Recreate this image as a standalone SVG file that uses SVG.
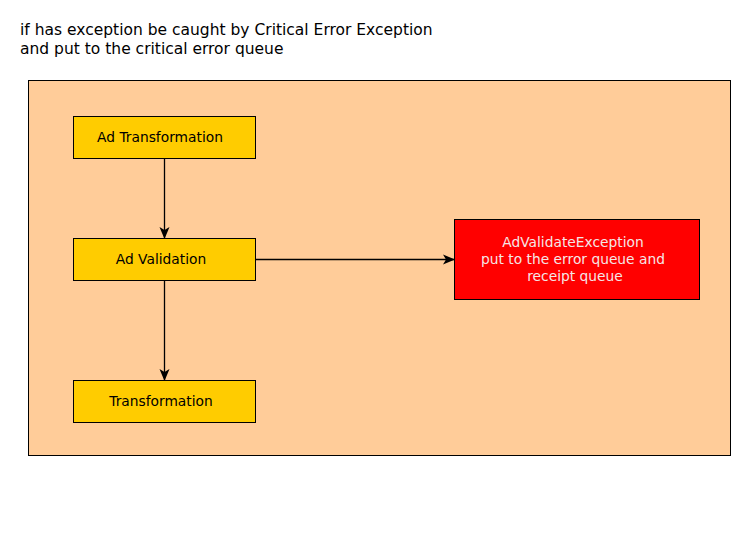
<svg xmlns="http://www.w3.org/2000/svg" width="750" height="549" viewBox="0 0 750 549">
<style>
text{font-family:"DejaVu Sans","Liberation Sans",sans-serif}
.title{font-size:15.5px;fill:#000}
.node{fill:#ffcc00;stroke:#000;stroke-width:1}
.lbl{font-size:13.8px;fill:#000;text-anchor:middle}
.err{fill:#ff0000;stroke:#000;stroke-width:1}
.elbl{font-size:13.8px;fill:#f5e6e6;text-anchor:middle}
.edge{stroke:#000;stroke-width:1.3;fill:none;marker-end:url(#arr)}
</style>
<defs>
<marker id="arr" viewBox="0 0 12 12" refX="11" refY="6" markerWidth="12" markerHeight="12" markerUnits="userSpaceOnUse" orient="auto">
<path d="M0,1 L12,6 L0,11 L3,6 Z" fill="#000"/>
</marker>
</defs>
<rect width="750" height="549" fill="#fff"/>
<text class="title" x="20" y="35">if has exception be caught by Critical Error Exception</text>
<text class="title" x="20" y="54">and put to the critical error queue</text>
<g id="container"><rect x="28.5" y="80.5" width="702" height="375" fill="#ffcc99" stroke="#000" stroke-width="1"/></g>
<g id="connectors">
<line class="edge" x1="164.5" y1="158" x2="164.5" y2="238"/>
<line class="edge" x1="164.5" y1="280" x2="164.5" y2="380"/>
<line class="edge" x1="255" y1="259.5" x2="454" y2="259.5"/>
</g>
<g id="ad-transformation"><rect class="node" x="73.5" y="116.5" width="182" height="42"/><text class="lbl" x="160" y="142">Ad Transformation</text></g>
<g id="ad-validation"><rect class="node" x="73.5" y="238.5" width="182" height="42"/><text class="lbl" x="161" y="264">Ad Validation</text></g>
<g id="transformation"><rect class="node" x="73.5" y="380.5" width="182" height="42"/><text class="lbl" x="161" y="406">Transformation</text></g>
<g id="ad-validate-exception"><rect class="err" x="454.5" y="219.5" width="245" height="80"/>
<text class="elbl" x="573" y="247">AdValidateException</text>
<text class="elbl" x="573" y="264">put to the error queue and</text>
<text class="elbl" x="575" y="281">receipt queue</text></g>
</svg>
